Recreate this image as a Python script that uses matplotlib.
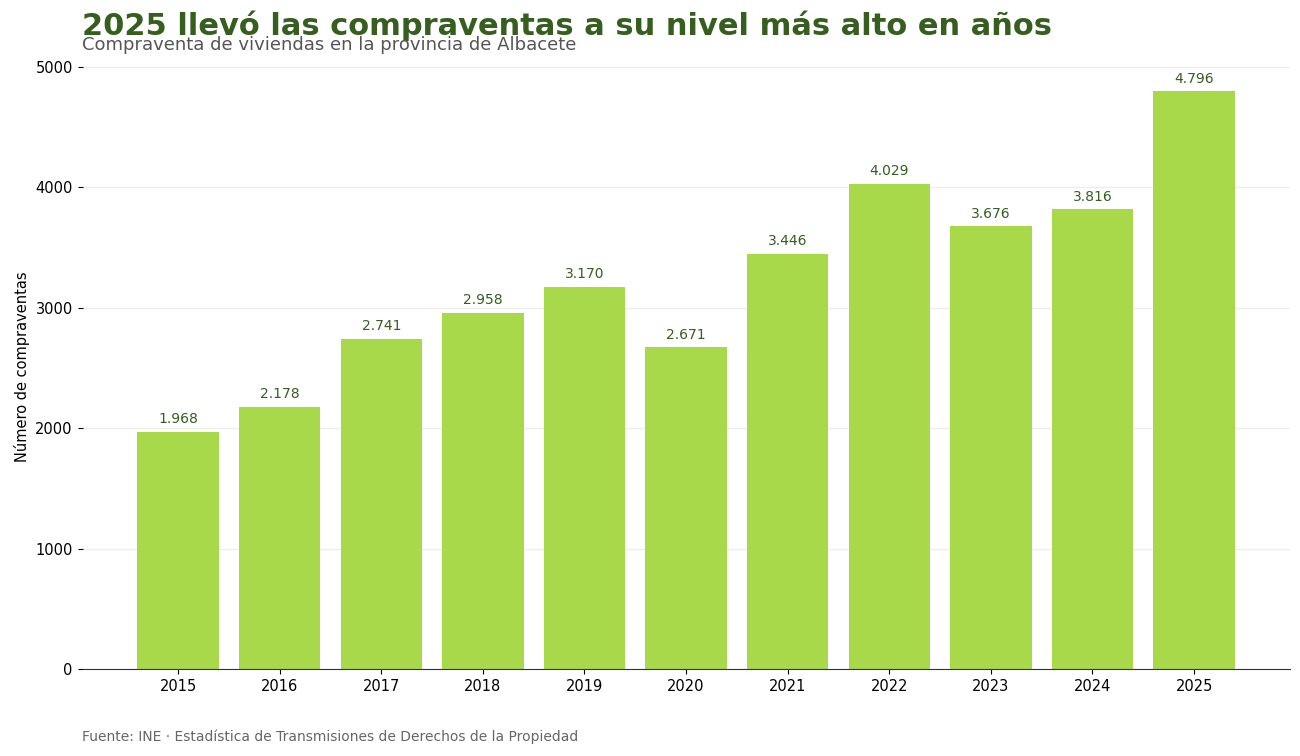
import matplotlib
matplotlib.use("Agg")
import matplotlib.pyplot as plt

years = ["2015", "2016", "2017", "2018", "2019", "2020", "2021", "2022", "2023", "2024", "2025"]
sales = [1968, 2178, 2741, 2958, 3170, 2671, 3446, 4029, 3676, 3816, 4796]

BAR = "#a8d94a"
DARK = "#355e1f"

fig, ax = plt.subplots(figsize=(13, 7.56), dpi=100)
fig.subplots_adjust(left=0.0635, right=0.992, top=0.916, bottom=0.115)

x = list(range(len(years)))
bars = ax.bar(x, sales, width=0.8, color=BAR, zorder=2)
for b, v in zip(bars, sales):
    ax.annotate(f"{v:,}".replace(",", "."), (b.get_x() + b.get_width() / 2, v),
                xytext=(0, 4), textcoords="offset points", ha="center", va="bottom",
                fontsize=10, color=DARK)

ax.set_xticks(x)
ax.set_xticklabels(years, fontsize=10.5)
ax.set_yticks([0, 1000, 2000, 3000, 4000, 5000])
ax.tick_params(axis="y", labelsize=10.5)
ax.set_ylim(0, 5000 * 1.005)
ax.set_ylabel("Número de compraventas", fontsize=10.5)

ax.grid(axis="y", color="#eeeeee", linewidth=1, zorder=0)
for s in ["top", "right", "left"]:
    ax.spines[s].set_visible(False)
ax.spines["bottom"].set_color("#333333")

fig.text(0.063, 0.966, "2025 llevó las compraventas a su nivel más alto en años",
         fontsize=22, fontweight="bold", color=DARK, va="center")
fig.text(0.063, 0.941, "Compraventa de viviendas en la provincia de Albacete",
         fontsize=13, color="#555555", va="center")
fig.text(0.063, 0.025, "Fuente: INE · Estadística de Transmisiones de Derechos de la Propiedad",
         fontsize=10, color="#666666", va="center")

fig.savefig("out.png", dpi=100)
